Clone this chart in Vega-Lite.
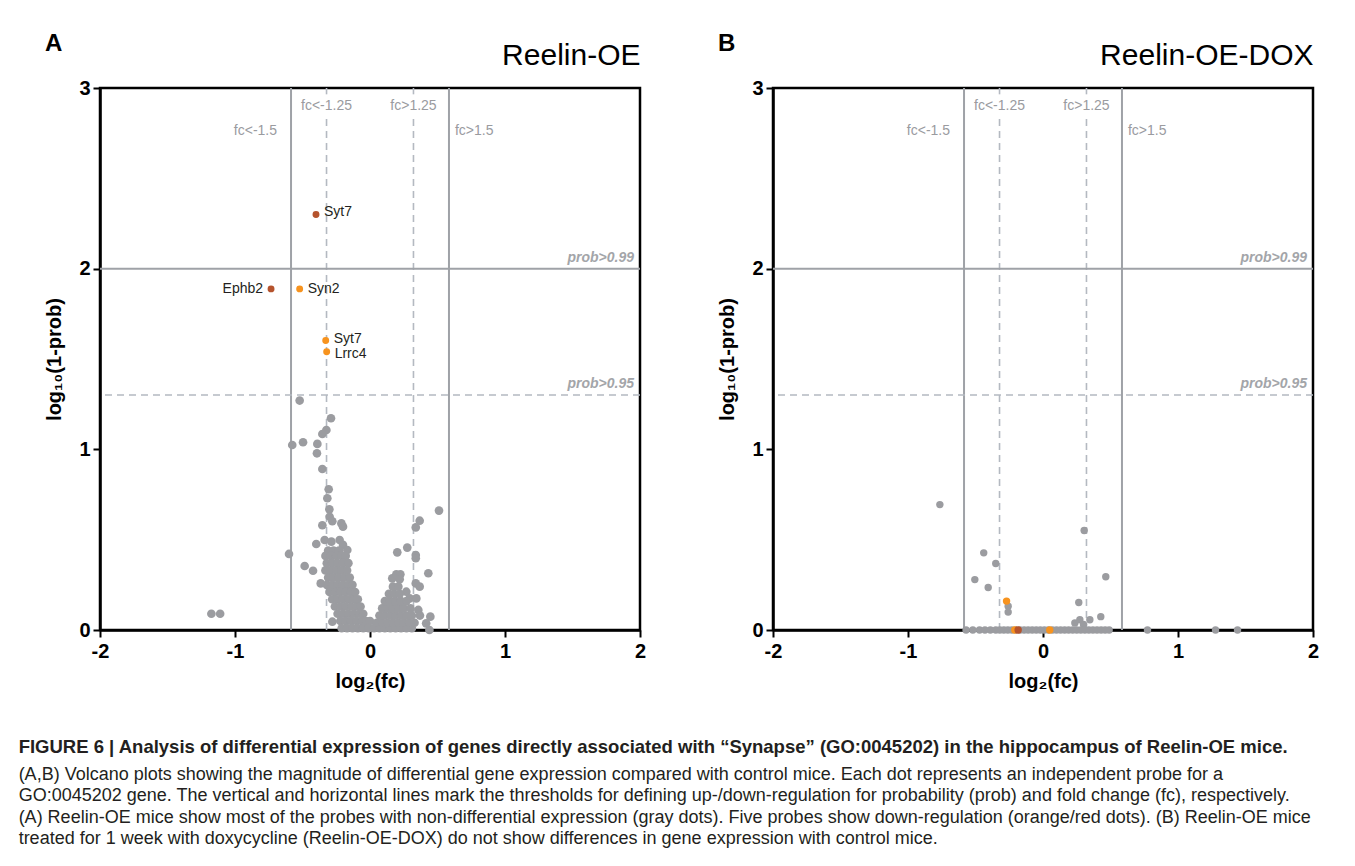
{
  "$schema": "https://vega.github.io/schema/vega-lite/v6.json",
  "background": "white",
  "padding": {"left": 18, "top": 30, "right": 5, "bottom": 5},
  "spacing": 69,
  "title": {
    "text": "FIGURE 6 | Analysis of differential expression of genes directly associated with “Synapse” (GO:0045202) in the hippocampus of Reelin-OE mice.",
    "subtitle": [
      "(A,B) Volcano plots showing the magnitude of differential gene expression compared with control mice. Each dot represents an independent probe for a",
      "GO:0045202 gene. The vertical and horizontal lines mark the thresholds for defining up-/down-regulation for probability (prob) and fold change (fc), respectively.",
      "(A) Reelin-OE mice show most of the probes with non-differential expression (gray dots). Five probes show down-regulation (orange/red dots). (B) Reelin-OE mice",
      "treated for 1 week with doxycycline (Reelin-OE-DOX) do not show differences in gene expression with control mice."
    ],
    "orient": "bottom",
    "anchor": "start",
    "frame": "bounds",
    "offset": 46,
    "dx": -25,
    "font": "Liberation Sans",
    "fontSize": 18.5,
    "fontWeight": "bold",
    "color": "#231f20",
    "subtitleFont": "Liberation Sans",
    "subtitleFontSize": 18,
    "subtitleColor": "#231f20",
    "subtitleLineHeight": 21.5,
    "subtitlePadding": 9
  },
  "datasets": {
    "A_gray": [
      {"fc": -0.521, "p": 1.270}, {"fc": -0.289, "p": 1.172}, {"fc": -0.323, "p": 1.107}, {"fc": -0.353, "p": 1.085},
      {"fc": -0.576, "p": 1.024}, {"fc": -0.496, "p": 1.039}, {"fc": -0.390, "p": 1.030}, {"fc": -0.393, "p": 0.978},
      {"fc": -0.353, "p": 0.891}, {"fc": -0.306, "p": 0.779}, {"fc": -0.316, "p": 0.729}, {"fc": -0.301, "p": 0.668},
      {"fc": -0.299, "p": 0.627}, {"fc": -0.353, "p": 0.580}, {"fc": -0.279, "p": 0.602}, {"fc": -0.212, "p": 0.590},
      {"fc": -0.200, "p": 0.572}, {"fc": 0.511, "p": 0.661}, {"fc": 0.368, "p": 0.605}, {"fc": 0.339, "p": 0.568},
      {"fc": -0.600, "p": 0.421}, {"fc": -0.484, "p": 0.354}, {"fc": -0.422, "p": 0.328}, {"fc": -0.398, "p": 0.476},
      {"fc": -0.336, "p": 0.498}, {"fc": -0.286, "p": 0.489}, {"fc": -0.225, "p": 0.498}, {"fc": -0.200, "p": 0.471},
      {"fc": -0.168, "p": 0.443}, {"fc": 0.202, "p": 0.430}, {"fc": 0.276, "p": 0.456}, {"fc": 0.339, "p": 0.415},
      {"fc": 0.339, "p": 0.397}, {"fc": 0.432, "p": 0.314}, {"fc": 0.165, "p": 0.286}, {"fc": 0.195, "p": 0.308},
      {"fc": 0.225, "p": 0.308}, {"fc": 0.220, "p": 0.281}, {"fc": -0.365, "p": 0.258}, {"fc": -0.279, "p": 0.046},
      {"fc": 0.447, "p": 0.074}, {"fc": 0.440, "p": 0.0}, {"fc": 0.358, "p": 0.111}, {"fc": 0.339, "p": 0.258},
      {"fc": 0.368, "p": 0.240}, {"fc": 0.269, "p": 0.212}, {"fc": 0.294, "p": 0.175}, {"fc": 0.343, "p": 0.175},
      {"fc": 0.416, "p": 0.037}, {"fc": -1.175, "p": 0.09}, {"fc": -1.11, "p": 0.09},
      {"fc": -0.31, "p": 0.44}, {"fc": -0.27, "p": 0.44}, {"fc": -0.23, "p": 0.44},
      {"fc": -0.33, "p": 0.41}, {"fc": -0.29, "p": 0.41}, {"fc": -0.25, "p": 0.41}, {"fc": -0.21, "p": 0.41}, {"fc": -0.18, "p": 0.41},
      {"fc": -0.32, "p": 0.37}, {"fc": -0.28, "p": 0.37}, {"fc": -0.24, "p": 0.37}, {"fc": -0.20, "p": 0.37}, {"fc": -0.16, "p": 0.37},
      {"fc": -0.33, "p": 0.33}, {"fc": -0.29, "p": 0.33}, {"fc": -0.25, "p": 0.33}, {"fc": -0.21, "p": 0.33}, {"fc": -0.17, "p": 0.33},
      {"fc": -0.31, "p": 0.29}, {"fc": -0.27, "p": 0.29}, {"fc": -0.23, "p": 0.29}, {"fc": -0.19, "p": 0.29}, {"fc": -0.15, "p": 0.29},
      {"fc": -0.32, "p": 0.25}, {"fc": -0.28, "p": 0.25}, {"fc": -0.24, "p": 0.25}, {"fc": -0.20, "p": 0.25}, {"fc": -0.16, "p": 0.25}, {"fc": -0.13, "p": 0.25},
      {"fc": -0.30, "p": 0.21}, {"fc": -0.26, "p": 0.21}, {"fc": -0.22, "p": 0.21}, {"fc": -0.18, "p": 0.21}, {"fc": -0.14, "p": 0.21}, {"fc": -0.11, "p": 0.21},
      {"fc": -0.28, "p": 0.17}, {"fc": -0.24, "p": 0.17}, {"fc": -0.20, "p": 0.17}, {"fc": -0.16, "p": 0.17}, {"fc": -0.12, "p": 0.17}, {"fc": -0.09, "p": 0.17},
      {"fc": -0.26, "p": 0.13}, {"fc": -0.22, "p": 0.13}, {"fc": -0.18, "p": 0.13}, {"fc": -0.14, "p": 0.13}, {"fc": -0.10, "p": 0.13}, {"fc": -0.07, "p": 0.13},
      {"fc": -0.24, "p": 0.09}, {"fc": -0.20, "p": 0.09}, {"fc": -0.16, "p": 0.09}, {"fc": -0.12, "p": 0.09}, {"fc": -0.08, "p": 0.09}, {"fc": -0.05, "p": 0.09},
      {"fc": -0.22, "p": 0.05}, {"fc": -0.18, "p": 0.05}, {"fc": -0.14, "p": 0.05}, {"fc": -0.10, "p": 0.05}, {"fc": -0.06, "p": 0.05}, {"fc": -0.03, "p": 0.05}, {"fc": 0.0, "p": 0.05},
      {"fc": -0.21, "p": 0.01}, {"fc": -0.17, "p": 0.01}, {"fc": -0.13, "p": 0.01}, {"fc": -0.09, "p": 0.01}, {"fc": -0.05, "p": 0.01}, {"fc": -0.01, "p": 0.01},
      {"fc": 0.03, "p": 0.01}, {"fc": 0.07, "p": 0.01}, {"fc": 0.11, "p": 0.01}, {"fc": 0.15, "p": 0.01}, {"fc": 0.19, "p": 0.01}, {"fc": 0.23, "p": 0.01},
      {"fc": 0.27, "p": 0.01}, {"fc": 0.31, "p": 0.01},
      {"fc": 0.05, "p": 0.04}, {"fc": 0.09, "p": 0.04}, {"fc": 0.13, "p": 0.04}, {"fc": 0.17, "p": 0.04}, {"fc": 0.21, "p": 0.04}, {"fc": 0.25, "p": 0.04}, {"fc": 0.29, "p": 0.04}, {"fc": 0.33, "p": 0.04},
      {"fc": 0.07, "p": 0.08}, {"fc": 0.11, "p": 0.08}, {"fc": 0.15, "p": 0.08}, {"fc": 0.19, "p": 0.08}, {"fc": 0.23, "p": 0.08}, {"fc": 0.27, "p": 0.08}, {"fc": 0.31, "p": 0.08}, {"fc": 0.37, "p": 0.08},
      {"fc": 0.09, "p": 0.12}, {"fc": 0.13, "p": 0.12}, {"fc": 0.17, "p": 0.12}, {"fc": 0.21, "p": 0.12}, {"fc": 0.25, "p": 0.12}, {"fc": 0.30, "p": 0.12},
      {"fc": 0.11, "p": 0.16}, {"fc": 0.15, "p": 0.16}, {"fc": 0.19, "p": 0.16}, {"fc": 0.23, "p": 0.16}, {"fc": 0.27, "p": 0.16},
      {"fc": 0.14, "p": 0.20}, {"fc": 0.18, "p": 0.20}, {"fc": 0.22, "p": 0.20},
      {"fc": 0.17, "p": 0.24}, {"fc": 0.21, "p": 0.24}
    ],
    "A_hit": [
      {"fc": -0.40, "p": 2.30, "grp": "red", "gene": "Syt7", "side": "up"},
      {"fc": -0.733, "p": 1.888, "grp": "red", "gene": "Ephb2", "side": "leftlab"},
      {"fc": -0.521, "p": 1.888, "grp": "orange", "gene": "Syn2", "side": "mid"},
      {"fc": -0.328, "p": 1.602, "grp": "orange", "gene": "Syt7", "side": "up"},
      {"fc": -0.321, "p": 1.540, "grp": "orange", "gene": "Lrrc4", "side": "down"}
    ],
    "B_gray": [
      {"fc": -0.764, "p": 0.694}, {"fc": -0.439, "p": 0.427}, {"fc": -0.350, "p": 0.368}, {"fc": -0.505, "p": 0.279},
      {"fc": -0.406, "p": 0.235}, {"fc": -0.258, "p": 0.132}, {"fc": -0.258, "p": 0.099}, {"fc": 0.305, "p": 0.551},
      {"fc": 0.265, "p": 0.152}, {"fc": 0.428, "p": 0.074}, {"fc": 0.465, "p": 0.295}, {"fc": 0.236, "p": 0.039},
      {"fc": 0.273, "p": 0.057}, {"fc": 0.347, "p": 0.057}, {"fc": 0.30, "p": 0.03},
      {"fc": -0.57, "p": 0}, {"fc": -0.52, "p": 0}, {"fc": -0.47, "p": 0}, {"fc": -0.43, "p": 0}, {"fc": -0.39, "p": 0},
      {"fc": -0.35, "p": 0}, {"fc": -0.32, "p": 0}, {"fc": -0.29, "p": 0}, {"fc": -0.26, "p": 0}, {"fc": -0.23, "p": 0},
      {"fc": -0.20, "p": 0}, {"fc": -0.17, "p": 0}, {"fc": -0.14, "p": 0}, {"fc": -0.11, "p": 0}, {"fc": -0.08, "p": 0},
      {"fc": -0.05, "p": 0}, {"fc": -0.02, "p": 0}, {"fc": 0.01, "p": 0}, {"fc": 0.04, "p": 0}, {"fc": 0.07, "p": 0},
      {"fc": 0.10, "p": 0}, {"fc": 0.13, "p": 0}, {"fc": 0.16, "p": 0}, {"fc": 0.19, "p": 0}, {"fc": 0.22, "p": 0},
      {"fc": 0.25, "p": 0}, {"fc": 0.28, "p": 0}, {"fc": 0.31, "p": 0}, {"fc": 0.34, "p": 0}, {"fc": 0.37, "p": 0},
      {"fc": 0.40, "p": 0}, {"fc": 0.43, "p": 0}, {"fc": 0.46, "p": 0}, {"fc": 0.49, "p": 0},
      {"fc": 0.774, "p": 0}, {"fc": 1.278, "p": 0}, {"fc": 1.441, "p": 0}
    ],
    "B_hit": [
      {"fc": -0.27, "p": 0.16, "grp": "orange"},
      {"fc": -0.209, "p": 0, "grp": "orange"},
      {"fc": -0.184, "p": 0, "grp": "red"},
      {"fc": 0.05, "p": 0, "grp": "orange"}
    ],
    "vsolid": [{"fc": -0.585}, {"fc": 0.585}],
    "vdash": [
      {"fc": -0.322, "p": 0, "p2": 2.84}, {"fc": -0.322, "p": 2.965, "p2": 3},
      {"fc": 0.322, "p": 0, "p2": 2.84}, {"fc": 0.322, "p": 2.965, "p2": 3}
    ],
    "hsolid": [{"p": 2}],
    "hdash": [{"p": 1.301}],
    "lab_right": [{"fc": -0.585, "p": 2.76, "label": "fc<-1.5"}],
    "lab_center": [{"fc": -0.322, "p": 2.90, "label": "fc<-1.25"}, {"fc": 0.322, "p": 2.90, "label": "fc>1.25"}],
    "lab_left": [{"fc": 0.585, "p": 2.76, "label": "fc>1.5"}],
    "lab_prob": [{"fc": 2, "p": 2, "label": "prob>0.99"}, {"fc": 2, "p": 1.301, "label": "prob>0.95"}]
  },
  "hconcat": [
    {
      "width": 540,
      "height": 542,
      "title": {"text": "A", "anchor": "start", "frame": "bounds", "fontSize": 24, "fontWeight": "bold", "color": "#000", "offset": -16},
      "resolve": {"axis": {"x": "independent"}},
      "layer": [
        {
          "data": {"name": "vsolid"},
          "mark": {"type": "rule", "color": "#9fa2a7", "strokeWidth": 2},
          "encoding": {
            "x": {"field": "fc", "type": "quantitative", "scale": {"domain": [-2, 2], "nice": false, "zero": false},
              "axis": {"title": "log₂(fc)", "values": [-2, -1, 0, 1, 2], "labelExpr": "'' + datum.value"}}
          }
        },
        {
          "data": {"name": "vdash"},
          "mark": {"type": "rule", "color": "#b4b9c1", "strokeWidth": 1.6, "strokeDash": [7, 5]},
          "encoding": {
            "x": {"field": "fc", "type": "quantitative",
              "axis": {"orient": "top", "title": "Reelin-OE", "labels": false, "ticks": false, "domain": false, "titleAnchor": "end", "titleFontSize": 30, "titleFontWeight": "normal", "titlePadding": 18}},
            "y": {"field": "p", "type": "quantitative", "scale": {"domain": [0, 3], "nice": false},
              "axis": {"title": "log₁₀(1-prob)", "values": [0, 1, 2, 3], "labelExpr": "'' + datum.value"}},
            "y2": {"field": "p2"}
          }
        },
        {
          "data": {"name": "hsolid"},
          "mark": {"type": "rule", "color": "#9fa2a7", "strokeWidth": 2},
          "encoding": {"y": {"field": "p", "type": "quantitative"}}
        },
        {
          "data": {"name": "hdash"},
          "mark": {"type": "rule", "color": "#b4b9c1", "strokeWidth": 1.6, "strokeDash": [7, 5]},
          "encoding": {"y": {"field": "p", "type": "quantitative"}}
        },
        {
          "data": {"name": "lab_right"},
          "mark": {"type": "text", "align": "right", "dx": -14, "fontSize": 14, "color": "#9a9b9f"},
          "encoding": {"x": {"field": "fc", "type": "quantitative", "axis": null}, "y": {"field": "p", "type": "quantitative"}, "text": {"field": "label"}}
        },
        {
          "data": {"name": "lab_center"},
          "mark": {"type": "text", "align": "center", "fontSize": 14, "color": "#9a9b9f"},
          "encoding": {"x": {"field": "fc", "type": "quantitative", "axis": null}, "y": {"field": "p", "type": "quantitative"}, "text": {"field": "label"}}
        },
        {
          "data": {"name": "lab_left"},
          "mark": {"type": "text", "align": "left", "dx": 6, "fontSize": 14, "color": "#9a9b9f"},
          "encoding": {"x": {"field": "fc", "type": "quantitative", "axis": null}, "y": {"field": "p", "type": "quantitative"}, "text": {"field": "label"}}
        },
        {
          "data": {"name": "lab_prob"},
          "mark": {"type": "text", "align": "right", "dx": -6, "dy": -11, "fontSize": 14, "fontStyle": "italic", "fontWeight": "bold", "color": "#a3a5a9"},
          "encoding": {"x": {"field": "fc", "type": "quantitative", "axis": null}, "y": {"field": "p", "type": "quantitative"}, "text": {"field": "label"}}
        },
        {
          "data": {"name": "A_gray"},
          "mark": {"type": "circle", "size": 75, "opacity": 1, "color": "#9b9ca0"},
          "encoding": {"x": {"field": "fc", "type": "quantitative", "axis": null}, "y": {"field": "p", "type": "quantitative"}}
        },
        {
          "data": {"name": "A_hit"},
          "mark": {"type": "circle", "size": 48, "opacity": 1},
          "encoding": {
            "x": {"field": "fc", "type": "quantitative", "axis": null},
            "y": {"field": "p", "type": "quantitative"},
            "color": {"field": "grp", "type": "nominal", "scale": {"domain": ["orange", "red"], "range": ["#f7931e", "#b5532d"]}, "legend": null}
          }
        },
        {
          "data": {"name": "A_hit"},
          "transform": [{"filter": "datum.side == 'mid'"}],
          "mark": {"type": "text", "align": "left", "dx": 8, "fontSize": 14, "color": "#231f20"},
          "encoding": {"x": {"field": "fc", "type": "quantitative", "axis": null}, "y": {"field": "p", "type": "quantitative"}, "text": {"field": "gene"}}
        },
        {
          "data": {"name": "A_hit"},
          "transform": [{"filter": "datum.side == 'up'"}],
          "mark": {"type": "text", "align": "left", "dx": 8, "dy": -2, "fontSize": 14, "color": "#231f20"},
          "encoding": {"x": {"field": "fc", "type": "quantitative", "axis": null}, "y": {"field": "p", "type": "quantitative"}, "text": {"field": "gene"}}
        },
        {
          "data": {"name": "A_hit"},
          "transform": [{"filter": "datum.side == 'down'"}],
          "mark": {"type": "text", "align": "left", "dx": 8, "dy": 2, "fontSize": 14, "color": "#231f20"},
          "encoding": {"x": {"field": "fc", "type": "quantitative", "axis": null}, "y": {"field": "p", "type": "quantitative"}, "text": {"field": "gene"}}
        },
        {
          "data": {"name": "A_hit"},
          "transform": [{"filter": "datum.side == 'leftlab'"}],
          "mark": {"type": "text", "align": "right", "dx": -8, "fontSize": 14, "color": "#231f20"},
          "encoding": {"x": {"field": "fc", "type": "quantitative", "axis": null}, "y": {"field": "p", "type": "quantitative"}, "text": {"field": "gene"}}
        }
      ]
    },
    {
      "width": 540,
      "height": 542,
      "title": {"text": "B", "anchor": "start", "frame": "bounds", "fontSize": 24, "fontWeight": "bold", "color": "#000", "offset": -16},
      "resolve": {"axis": {"x": "independent"}},
      "layer": [
        {
          "data": {"name": "vsolid"},
          "mark": {"type": "rule", "color": "#9fa2a7", "strokeWidth": 2},
          "encoding": {
            "x": {"field": "fc", "type": "quantitative", "scale": {"domain": [-2, 2], "nice": false, "zero": false},
              "axis": {"title": "log₂(fc)", "values": [-2, -1, 0, 1, 2], "labelExpr": "'' + datum.value"}}
          }
        },
        {
          "data": {"name": "vdash"},
          "mark": {"type": "rule", "color": "#b4b9c1", "strokeWidth": 1.6, "strokeDash": [7, 5]},
          "encoding": {
            "x": {"field": "fc", "type": "quantitative",
              "axis": {"orient": "top", "title": "Reelin-OE-DOX", "labels": false, "ticks": false, "domain": false, "titleAnchor": "end", "titleFontSize": 30, "titleFontWeight": "normal", "titlePadding": 18}},
            "y": {"field": "p", "type": "quantitative", "scale": {"domain": [0, 3], "nice": false},
              "axis": {"title": "log₁₀(1-prob)", "values": [0, 1, 2, 3], "labelExpr": "'' + datum.value"}},
            "y2": {"field": "p2"}
          }
        },
        {
          "data": {"name": "hsolid"},
          "mark": {"type": "rule", "color": "#9fa2a7", "strokeWidth": 2},
          "encoding": {"y": {"field": "p", "type": "quantitative"}}
        },
        {
          "data": {"name": "hdash"},
          "mark": {"type": "rule", "color": "#b4b9c1", "strokeWidth": 1.6, "strokeDash": [7, 5]},
          "encoding": {"y": {"field": "p", "type": "quantitative"}}
        },
        {
          "data": {"name": "lab_right"},
          "mark": {"type": "text", "align": "right", "dx": -14, "fontSize": 14, "color": "#9a9b9f"},
          "encoding": {"x": {"field": "fc", "type": "quantitative", "axis": null}, "y": {"field": "p", "type": "quantitative"}, "text": {"field": "label"}}
        },
        {
          "data": {"name": "lab_center"},
          "mark": {"type": "text", "align": "center", "fontSize": 14, "color": "#9a9b9f"},
          "encoding": {"x": {"field": "fc", "type": "quantitative", "axis": null}, "y": {"field": "p", "type": "quantitative"}, "text": {"field": "label"}}
        },
        {
          "data": {"name": "lab_left"},
          "mark": {"type": "text", "align": "left", "dx": 6, "fontSize": 14, "color": "#9a9b9f"},
          "encoding": {"x": {"field": "fc", "type": "quantitative", "axis": null}, "y": {"field": "p", "type": "quantitative"}, "text": {"field": "label"}}
        },
        {
          "data": {"name": "lab_prob"},
          "mark": {"type": "text", "align": "right", "dx": -6, "dy": -11, "fontSize": 14, "fontStyle": "italic", "fontWeight": "bold", "color": "#a3a5a9"},
          "encoding": {"x": {"field": "fc", "type": "quantitative", "axis": null}, "y": {"field": "p", "type": "quantitative"}, "text": {"field": "label"}}
        },
        {
          "data": {"name": "B_gray"},
          "mark": {"type": "circle", "size": 55, "opacity": 1, "color": "#9b9ca0"},
          "encoding": {"x": {"field": "fc", "type": "quantitative", "axis": null}, "y": {"field": "p", "type": "quantitative"}}
        },
        {
          "data": {"name": "B_hit"},
          "mark": {"type": "circle", "size": 55, "opacity": 1},
          "encoding": {
            "x": {"field": "fc", "type": "quantitative", "axis": null},
            "y": {"field": "p", "type": "quantitative"},
            "color": {"field": "grp", "type": "nominal", "scale": {"domain": ["orange", "red"], "range": ["#f7931e", "#b5532d"]}, "legend": null}
          }
        }
      ]
    }
  ],
  "config": {
    "font": "Liberation Sans",
    "view": {"stroke": "#000", "strokeWidth": 2.5},
    "axis": {
      "grid": false,
      "domainColor": "#000",
      "domainWidth": 2.5,
      "tickColor": "#000",
      "tickWidth": 2,
      "tickSize": 7,
      "labelFontSize": 20,
      "labelFontWeight": "bold",
      "labelColor": "#000",
      "labelFlush": false,
      "labelPadding": 3,
      "titleFontSize": 20,
      "titleFontWeight": "bold",
      "titleColor": "#000",
      "titlePadding": 14
    },
    "axisX": {"labelPadding": 4, "titlePadding": 10}
  }
}
